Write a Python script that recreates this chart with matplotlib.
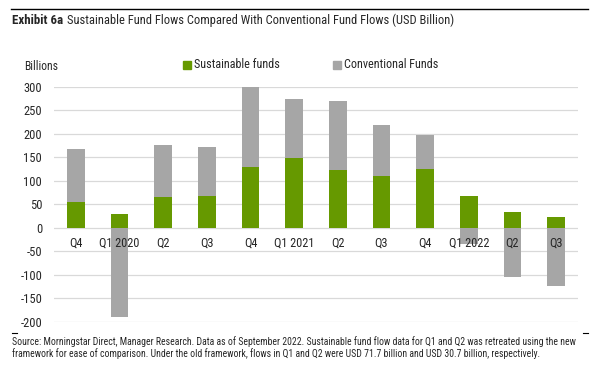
import matplotlib.pyplot as plt
import matplotlib.lines as mlines
from matplotlib import font_manager

# dane (mld USD)
quarters = ['Q4', 'Q1 2020', 'Q2', 'Q3', 'Q4', 'Q1 2021', 'Q2', 'Q3', 'Q4', 'Q1 2022', 'Q2', 'Q3']
sustainable = [56, 30, 65, 67, 129, 148, 123, 110, 125, 69, 33, 23]
conventional = [111, -189, 112, 106, 170, 127, 146, 108, 72, -35, -104, -123]
yticks = [300, 250, 200, 150, 100, 50, 0, -50, -100, -150, -200]

green = '#669900'
grey = '#a6a6a6'
txt = '#262626'

# czcionka waska (podobna do Univers Condensed), jesli jest
available = set(f.name for f in font_manager.fontManager.ttflist)
candidates = ['Roboto Condensed', 'Archivo Narrow', 'PT Sans Narrow', 'Liberation Sans Narrow',
              'Arial Narrow', 'Fira Sans Condensed', 'IBM Plex Sans Condensed', 'Open Sans Condensed',
              'Encode Sans Condensed', 'Asap Condensed', 'Barlow Semi Condensed']
narrow = [c for c in candidates if c in available]
plt.rcParams['font.family'] = narrow[:1] + ['DejaVu Sans']

fig = plt.figure(figsize=(6.02, 3.72), dpi=100)
ax = fig.add_axes([0.0897, 0.1344, 0.8703, 0.632])

x = list(range(len(quarters)))
bottoms = [s if c > 0 else 0 for s, c in zip(sustainable, conventional)]
ax.bar(x, sustainable, width=0.4, color=green, zorder=2)
ax.bar(x, conventional, width=0.4, bottom=bottoms, color=grey, zorder=2)

ax.set_xlim(-0.5, len(quarters) - 0.5)
ax.set_ylim(-200, 300)
ax.set_yticks(yticks)
ax.set_yticklabels([str(v) for v in yticks])
ax.yaxis.grid(True, color='#d9d9d9', linewidth=0.9)
ax.set_axisbelow(True)
ax.xaxis.set_zorder(5)  # etykiety kwartalow na wierzchu slupkow
for s in ax.spines.values():
    s.set_visible(False)
ax.spines['bottom'].set_position(('data', 0))
ax.set_xticks(x)
ax.set_xticklabels(quarters)
ax.tick_params(axis='x', length=0, pad=6, labelsize=8.8, colors=txt)
ax.tick_params(axis='y', length=0, pad=8.5, labelsize=9, colors=txt)

W, H = 602, 372
renderer = fig.canvas.get_renderer()


def put(xpx, ypx, s, size, width_px=None, **kw):
    t = fig.text(xpx / W, 1 - ypx / H, s, fontsize=size, color=txt, va='center', **kw)
    if width_px:
        w = t.get_window_extent(renderer).width
        t.set_fontsize(size * width_px / w)
    return t


# naglowek
fig.add_artist(mlines.Line2D([11 / W, 588 / W], [1 - 9 / H, 1 - 9 / H], color='black', linewidth=1.0))
put(12, 20, 'Exhibit 6a', 9.5, 51, fontweight='bold')
put(67, 20, 'Sustainable Fund Flows Compared With Conventional Fund Flows (USD Billion)', 9.5, 388)
put(24, 67, 'Billions', 9, 34)

# legenda
fig.add_artist(plt.Rectangle((183 / W, 1 - 69 / H), 8 / W, 8 / H, color=green, transform=fig.transFigure))
put(194, 65, 'Sustainable funds', 9, 86)
fig.add_artist(plt.Rectangle((333 / W, 1 - 69 / H), 8 / W, 8 / H, color=grey, transform=fig.transFigure))
put(344, 65, 'Conventional Funds', 9, 94)

# przypis
fig.add_artist(mlines.Line2D([12 / W, 17 / W], [1 - 333 / H, 1 - 333 / H], color='black', linewidth=0.8))
fig.add_artist(mlines.Line2D([583 / W, 588 / W], [1 - 333 / H, 1 - 333 / H], color='black', linewidth=0.8))
put(12, 342, 'Source: Morningstar Direct, Manager Research. Data as of September 2022. '
    'Sustainable fund flow data for Q1 and Q2 was retreated using the new', 7, 567)
put(12, 354, 'framework for ease of comparison. Under the old framework, flows in Q1 and Q2 '
    'were USD 71.7 billion and USD 30.7 billion, respectively.', 7, 527)

fig.savefig('out.png', dpi=100)
